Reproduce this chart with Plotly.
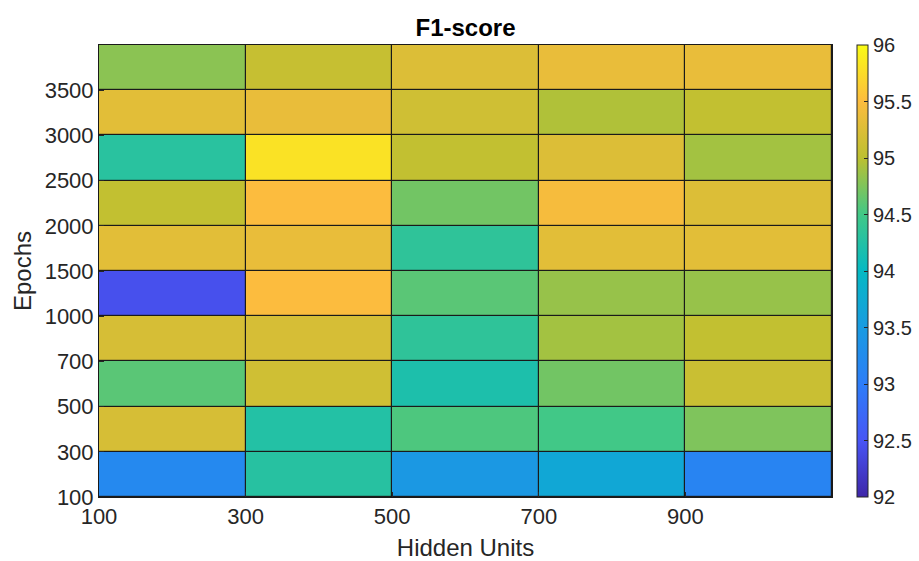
import plotly.graph_objects as go

hidden_units = [100, 300, 500, 700, 900]
epochs = [100, 300, 500, 700, 1000, 1500, 2000, 2500, 3000, 3500]

# F1-score, rows = epochs (bottom to top), columns = hidden units
f1_e100 = [93.20, 94.28, 93.45, 93.70, 93.12]
f1_e300 = [95.20, 94.25, 94.55, 94.50, 94.75]
f1_e500 = [94.60, 95.15, 94.20, 94.70, 95.10]
f1_e700 = [95.20, 95.20, 94.35, 94.90, 95.05]
f1_e1000 = [92.45, 95.50, 94.60, 94.85, 94.85]
f1_e1500 = [95.30, 95.35, 94.35, 95.30, 95.30]
f1_e2000 = [95.05, 95.50, 94.70, 95.45, 95.25]
f1_e2500 = [94.30, 95.80, 95.05, 95.25, 94.90]
f1_e3000 = [95.30, 95.35, 95.15, 94.95, 95.05]
f1_e3500 = [94.80, 95.08, 95.25, 95.35, 95.35]

z = [f1_e100, f1_e300, f1_e500, f1_e700, f1_e1000,
     f1_e1500, f1_e2000, f1_e2500, f1_e3000, f1_e3500]

parula = [
    [0.0, "rgb(62,38,168)"],
    [0.125, "rgb(72,85,245)"],
    [0.25, "rgb(45,125,248)"],
    [0.375, "rgb(25,155,225)"],
    [0.5, "rgb(5,185,195)"],
    [0.625, "rgb(65,200,135)"],
    [0.75, "rgb(188,192,48)"],
    [0.875, "rgb(252,188,62)"],
    [1.0, "rgb(249,251,20)"],
]

FONT = "Liberation Sans, Arial, Helvetica, sans-serif"
TICKC = "#262626"

xc = [i + 0.5 for i in range(len(hidden_units))]
yc = [i + 0.5 for i in range(len(epochs))]

fig = go.Figure(go.Heatmap(
    x=xc, y=yc, z=z, zmin=92, zmax=96, colorscale=parula,
    xgap=1.2, ygap=1.2,
    colorbar=dict(
        x=(857 - 99) / 733, xanchor="left", xref="paper", xpad=0, ypad=0,
        y=0.5, yanchor="middle", len=1.0, lenmode="fraction",
        thickness=11, outlinewidth=1, outlinecolor=TICKC,
        tickvals=[92, 92.5, 93, 93.5, 94, 94.5, 95, 95.5, 96],
        ticktext=["92", "92.5", "93", "93.5", "94", "94.5", "95", "95.5", "96"],
        ticks="inside", ticklen=4, tickcolor=TICKC,
        tickfont=dict(family=FONT, size=20, color=TICKC),
    ),
))

fig.update_layout(
    width=919, height=561,
    margin=dict(l=99, r=87, t=45, b=64, autoexpand=False),
    paper_bgcolor="white", plot_bgcolor="#1a1a1a",
    title=dict(text="<b>F1-score</b>", x=(99 + 832) / 2 / 919, xanchor="center",
               y=1 - 28 / 561, yanchor="middle",
               font=dict(family=FONT, size=24, color="black")),
    font=dict(family=FONT, color=TICKC),
)

fig.update_xaxes(
    range=[0, len(hidden_units)],
    tickvals=list(range(len(hidden_units))), ticktext=[str(v) for v in hidden_units],
    ticks="inside", ticklen=5, tickcolor=TICKC,
    showline=True, linecolor="#1a1a1a", linewidth=1, mirror=True,
    showgrid=False, zeroline=False,
    tickfont=dict(family=FONT, size=22, color=TICKC),
    title=dict(text="Hidden Units", font=dict(family=FONT, size=24, color=TICKC), standoff=10),
)
fig.update_yaxes(
    range=[0, len(epochs)],
    tickvals=list(range(len(epochs))), ticktext=[str(v) for v in epochs],
    ticks="inside", ticklen=5, tickcolor=TICKC,
    showline=True, linecolor="#1a1a1a", linewidth=1, mirror=True,
    showgrid=False, zeroline=False,
    tickfont=dict(family=FONT, size=22, color=TICKC),
    title=dict(text="Epochs", font=dict(family=FONT, size=24, color=TICKC), standoff=6),
)

fig.write_html("out.html")
